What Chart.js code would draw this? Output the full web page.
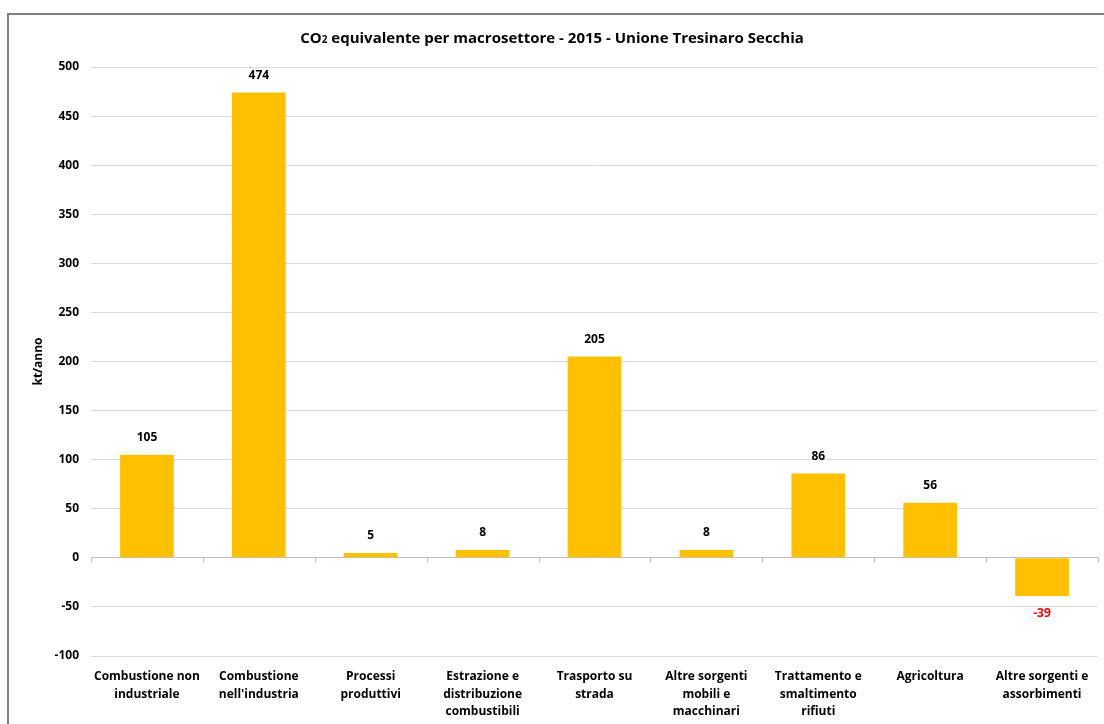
<!DOCTYPE html>
<html>
<head>
<meta charset="utf-8">
<script src="https://cdn.jsdelivr.net/npm/chart.js@4.4.1/dist/chart.umd.min.js"></script>
<style>
    body { margin: 0; background: #fff; }
    #wrap { position: relative; width: 1104px; height: 724px; }
    #frame { position: absolute; left: 7px; top: 13px; right: -4px; bottom: -4px; border: 2px solid #7f7f7f; pointer-events: none; }
</style>
</head>
<body>
<div id="wrap">
    <canvas id="chart" width="1104" height="724"></canvas>
    <div id="frame"></div>
</div>
<script>
const categories = [
    ['Combustione non', 'industriale'],
    ['Combustione', "nell'industria"],
    ['Processi', 'produttivi'],
    ['Estrazione e', 'distribuzione', 'combustibili'],
    ['Trasporto su', 'strada'],
    ['Altre sorgenti', 'mobili e', 'macchinari'],
    ['Trattamento e', 'smaltimento', 'rifiuti'],
    ['Agricoltura'],
    ['Altre sorgenti e', 'assorbimenti']
]
const values = [105, 474, 5, 8, 205, 8, 86, 56, -39]
const titleMain = 'CO'
const titleSub = '2'
const titleRest = ' equivalente per macrosettore - 2015 - Unione Tresinaro Secchia'
const yTitle = 'kt/anno'

const fontFamily = '"Open Sans", "Noto Sans", sans-serif'
const barColor = '#FFC000'

// title with the small "2"
const titlePlugin = {
    id: 'titleDraw',
    afterDraw(chart) {
        const ctx = chart.ctx
        ctx.save()
        ctx.fillStyle = '#000'
        ctx.textBaseline = 'alphabetic'
        const big = 'bold 15px ' + fontFamily
        const small = 'bold 10px ' + fontFamily
        ctx.font = big
        const w1 = ctx.measureText(titleMain).width
        const w3 = ctx.measureText(titleRest).width
        ctx.font = small
        const w2 = ctx.measureText(titleSub).width
        let x = chart.width / 2 - (w1 + w2 + w3) / 2
        const y = 43
        ctx.font = big
        ctx.fillText(titleMain, x, y)
        x += w1
        ctx.font = small
        ctx.fillText(titleSub, x, y)
        x += w2
        ctx.font = big
        ctx.fillText(titleRest, x, y)
        ctx.restore()
    }
}

// value labels and the small ticks on the zero line
const labelsPlugin = {
    id: 'valueLabels',
    afterDatasetsDraw(chart) {
        const ctx = chart.ctx
        const xs = chart.scales.x
        const ys = chart.scales.y
        const zero = ys.getPixelForValue(0)
        ctx.save()
        ctx.strokeStyle = '#bfbfbf'
        ctx.lineWidth = 1
        const step = (xs.right - xs.left) / categories.length
        for (let i = 0; i <= categories.length; i++) {
            const x = Math.round(xs.left + i * step) + 0.5
            ctx.beginPath()
            ctx.moveTo(x, zero)
            ctx.lineTo(x, zero + 5)
            ctx.stroke()
        }
        ctx.font = 'bold 12px ' + fontFamily
        ctx.textAlign = 'center'
        ctx.textBaseline = 'middle'
        chart.getDatasetMeta(0).data.forEach((bar, i) => {
            const v = values[i]
            if (v >= 0) {
                ctx.fillStyle = '#000'
                ctx.fillText(v, bar.x, bar.y - 17)
            } else {
                ctx.fillStyle = '#ff0000'
                ctx.fillText(v, bar.x, bar.y + 17)
            }
        })
        ctx.restore()
    }
}

new Chart(document.getElementById('chart'), {
    type: 'bar',
    data: {
        labels: categories,
        datasets: [{
            data: values,
            backgroundColor: barColor,
            categoryPercentage: 1,
            barPercentage: 0.48
        }]
    },
    options: {
        responsive: false,
        animation: false,
        layout: { padding: { top: 67, left: 27, right: 6, bottom: 2 } },
        plugins: {
            legend: { display: false },
            tooltip: { enabled: false }
        },
        scales: {
            x: {
                grid: { display: false },
                border: { display: false },
                ticks: {
                    color: '#000',
                    font: { family: fontFamily, size: 12, weight: 'bold', lineHeight: 1.45 },
                    maxRotation: 0,
                    autoSkip: false,
                    padding: 4
                },
                afterFit(scale) { scale.height = 66 }
            },
            y: {
                min: -100,
                max: 500,
                border: { display: false },
                grid: {
                    drawTicks: false,
                    color: (c) => c.tick && c.tick.value === 0 ? '#bfbfbf' : '#d9d9d9'
                },
                ticks: {
                    stepSize: 50,
                    color: '#000',
                    padding: 12,
                    font: { family: fontFamily, size: 12, weight: 'bold' }
                },
                title: {
                    display: true,
                    text: yTitle,
                    color: '#000',
                    font: { family: fontFamily, size: 12, weight: 'bold' }
                },
                afterFit(scale) { scale.width = 64 }
            }
        }
    },
    plugins: [titlePlugin, labelsPlugin]
})
</script>
</body>
</html>
